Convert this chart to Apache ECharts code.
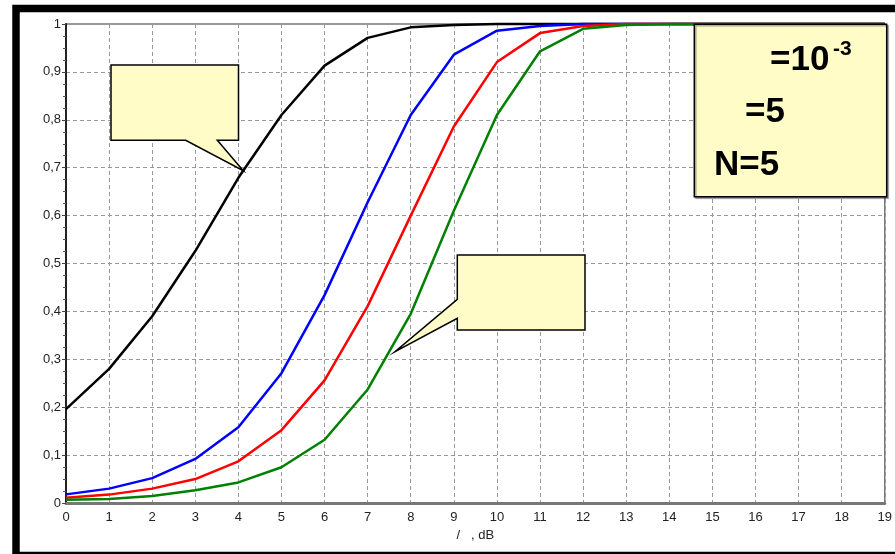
<!DOCTYPE html>
<html>
<head>
<meta charset="utf-8">
<script src="https://cdn.jsdelivr.net/npm/echarts@6/dist/echarts.min.js"></script>
<style>
html,body{margin:0;padding:0;background:#fff;}
#chart{width:895px;height:554px;}
</style>
</head>
<body>
<div id="chart"></div>
<script>
const xValues = [0,1,2,3,4,5,6,7,8,9,10,11,12,13,14,15,16,17,18,19];
const blackCurve = [0.196,0.28,0.39,0.526,0.679,0.81,0.913,0.971,0.993,0.998,1,1,1,1,1,1,1,1,1,1];
const blueCurve  = [0.018,0.030,0.052,0.092,0.158,0.271,0.434,0.628,0.81,0.936,0.986,0.996,1,1,1,1,1,1,1,1];
const redCurve   = [0.011,0.0175,0.030,0.050,0.087,0.152,0.256,0.411,0.60,0.786,0.9205,0.981,0.996,1,1,1,1,1,1,1];
const greenCurve = [0.007,0.0085,0.0147,0.0265,0.043,0.0746,0.132,0.237,0.395,0.61,0.81,0.943,0.990,0.998,1,1,1,1,1,1];
const xAxisTitle = '/   , dB';
const infoLines = ['=10', '-3', '=5', 'N=5'];

const pairs = arr => xValues.map((x, i) => [x, arr[i]]);
const mkSeries = (data, color) => ({
  type: 'line', data: pairs(data), symbol: 'none', clip: false,
  lineStyle: { color: color, width: 2.5 }, z: 5
});

const chart = echarts.init(document.getElementById('chart'));
const calloutStyle = { fill: '#FFFCC8', stroke: '#000', lineWidth: 1.5 };
const bigText = (x, y, t) => ({ type: 'text', z: 101, style: { x: x, y: y, text: t, fontFamily: 'Liberation Sans', fontWeight: 'bold', fontSize: 35, fill: '#000', verticalAlign: 'bottom' } });
chart.setOption({
  animation: false,
  backgroundColor: '#fff',
  grid: { left: 66, top: 24, width: 821, height: 479, show: true, borderColor: '#777', borderWidth: 1.5, backgroundColor: 'transparent' },
  xAxis: {
    type: 'value', min: 0, max: 19, interval: 1,
    name: xAxisTitle, nameLocation: 'middle', nameGap: 24,
    nameTextStyle: { fontFamily: 'Liberation Sans', fontSize: 13, color: '#222' },
    axisLine: { lineStyle: { color: '#777', width: 3 } },
    axisTick: { show: false },
    axisLabel: { fontFamily: 'Liberation Sans', fontSize: 13, color: '#222', margin: 8 },
    splitLine: { show: true, lineStyle: { color: '#999', type: [4, 3], width: 1 } }
  },
  yAxis: {
    type: 'value', min: 0, max: 1, interval: 0.1,
    axisLine: { show: true, lineStyle: { color: '#222', width: 2 } },
    axisTick: { show: true, length: 4, lineStyle: { color: '#444' } },
    minorTick: { show: true, splitNumber: 4, length: 3, lineStyle: { color: '#555' } },
    axisLabel: {
      fontFamily: 'Liberation Sans', fontSize: 13, color: '#222', margin: 5,
      formatter: v => String(Math.round(v * 10) / 10).replace('.', ',')
    },
    splitLine: { show: true, lineStyle: { color: '#999', type: [4, 3], width: 1 } }
  },
  series: [
    mkSeries(blackCurve, '#000000'),
    mkSeries(blueCurve, '#0000FF'),
    mkSeries(redCurve, '#FF0000'),
    mkSeries(greenCurve, '#008000')
  ],
  graphic: [
    { type: 'polygon', z: 100, shape: { points: [[111,65],[238.5,65],[238.5,140.3],[217.3,140.3],[243.3,170.7],[185.7,140.3],[111,140.3]] }, style: calloutStyle },
    { type: 'polygon', z: 100, shape: { points: [[457.3,255],[585,255],[585,330],[457.3,330],[457.3,318.3],[395,351.7],[457.3,299.3]] }, style: calloutStyle },
    { type: 'rect', z: 100, shape: { x: 694.3, y: 24.3, width: 192.4, height: 172.4 }, style: { fill: '#FFFCC8', stroke: '#000', lineWidth: 1.5, shadowColor: 'rgba(0,0,0,0.35)', shadowOffsetX: 1.5, shadowOffsetY: 1.5, shadowBlur: 1 } },
    bigText(770, 78, infoLines[0]),
    { type: 'text', z: 101, style: { x: 833, y: 60, text: infoLines[1], fontFamily: 'Liberation Sans', fontWeight: 'bold', fontSize: 21, fill: '#000', verticalAlign: 'bottom' } },
    bigText(745, 130, infoLines[2]),
    bigText(714, 183, infoLines[3]),
    { type: 'rect', z: 200, silent: true, shape: { x: 16, y: 8.5, width: 900, height: 547 }, style: { fill: 'none', stroke: '#000', lineWidth: 7.5 } }
  ]
});
</script>
</body>
</html>
